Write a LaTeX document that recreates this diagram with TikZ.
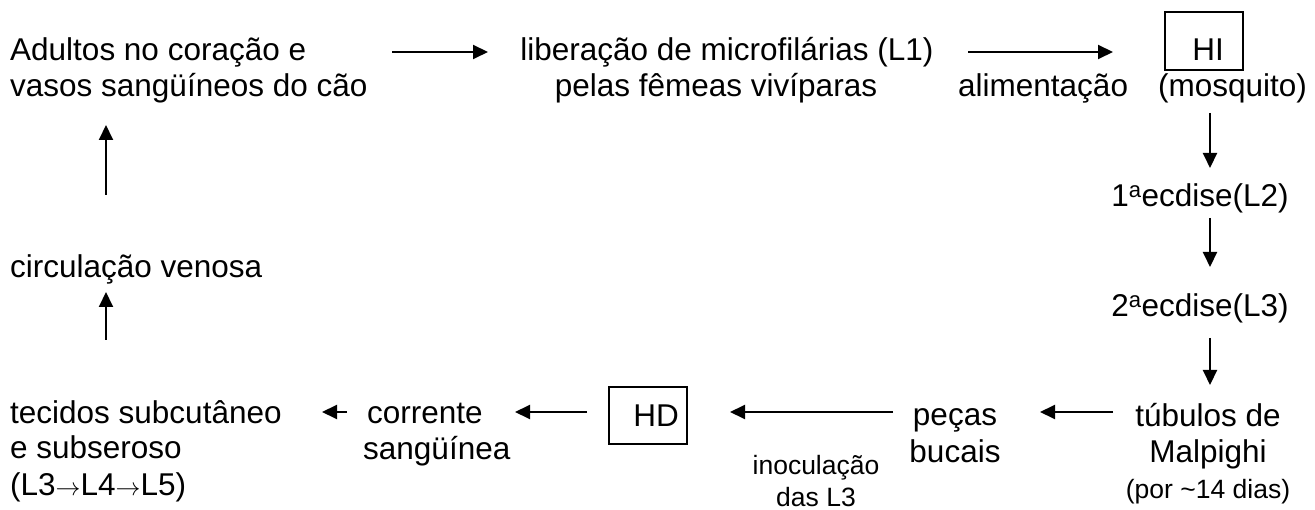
\documentclass[tikz,border=0pt]{standalone}
\usepackage{fontspec}
\setmainfont{Liberation Sans}
\usetikzlibrary{arrows.meta}
\tikzset{
  txt/.style={inner sep=0pt, font=\fontsize{31.5}{36}\selectfont},
  small/.style={inner sep=0pt, font=\fontsize{26.5}{32}\selectfont},
  hostbox/.style={draw, line width=1.2pt, inner sep=0pt},
  arr/.style={line width=2pt, -{Triangle[length=15pt,width=14pt]}},
}
\begin{document}
\begin{tikzpicture}[x=1pt,y=-1pt]
\useasboundingbox (0,0) rectangle (1315,510);
% nodes (base anchor of a multi-line node = baseline of its last line)
\node[txt, anchor=base west, align=left] (adultos) at (10,97) {Adultos no coração e\\vasos sangüíneos do cão};
\node[txt, anchor=base, align=center] (libera) at (727,97) {liberação de microfilárias (L1)\\pelas fêmeas vivíparas\hspace*{22pt}};
\node[txt, anchor=base west] (alim) at (958,97) {alimentação};
\node[hostbox, minimum width=78pt, minimum height=58pt] (hibox) at (1204,41) {};
\node[txt, anchor=base] (hi) at (1208,61) {HI};
\node[txt, anchor=base west] (mosq) at (1158,97) {(mosquito)};
\node[txt, anchor=base] (ec1) at (1200,207) {1\textsuperscript{a}ecdise(L2)};
\node[txt, anchor=base] (ec2) at (1200,317) {2\textsuperscript{a}ecdise(L3)};
\node[txt, anchor=base, align=center] (tub) at (1208,498) {túbulos de\\Malpighi\\{\fontsize{26.5}{36}\selectfont (por \textasciitilde14 dias)}};
\node[txt, anchor=base, align=center] (pecas) at (955,462) {peças\\bucais};
\node[small, anchor=base, align=center] (inoc) at (816,506) {inoculação\\das L3};
\node[hostbox, minimum width=78pt, minimum height=57pt] (hdbox) at (648,415.5) {};
\node[txt, anchor=base] (hd) at (656,427) {HD};
\node[txt, anchor=base west, align=left] (corr) at (363,460) {\hspace*{4pt}corrente\\sangüínea};
\node[txt, anchor=base west, align=left] (tec) at (10,495) {tecidos subcutâneo\\e subseroso\\(L3\ensuremath{\rightarrow}L4\ensuremath{\rightarrow}L5)};
\node[txt, anchor=base west] (circ) at (10,278) {circulação venosa};
% arrow end points
\coordinate (a1s) at (392,52);  \coordinate (a1e) at (488,52);
\coordinate (a2s) at (968,52);  \coordinate (a2e) at (1113,52);
\coordinate (r1s) at (1210,113); \coordinate (r1e) at (1210,168);
\coordinate (r2s) at (1210,218); \coordinate (r2e) at (1210,267);
\coordinate (r3s) at (1210,338); \coordinate (r3e) at (1210,385);
\coordinate (b1s) at (1113,412); \coordinate (b1e) at (1040,412);
\coordinate (b2s) at (893,412);  \coordinate (b2e) at (730,412);
\coordinate (b3s) at (587,412);  \coordinate (b3e) at (515,412);
\coordinate (b4s) at (347,412);  \coordinate (b4e) at (322,412);
\coordinate (l1s) at (106,340);  \coordinate (l1e) at (106,292);
\coordinate (l2s) at (106,195);  \coordinate (l2e) at (106,125);
% arrows
\draw[arr] (a1s) -- (a1e);
\draw[arr] (a2s) -- (a2e);
\draw[arr] (r1s) -- (r1e);
\draw[arr] (r2s) -- (r2e);
\draw[arr] (r3s) -- (r3e);
\draw[arr] (b1s) -- (b1e);
\draw[arr] (b2s) -- (b2e);
\draw[arr] (b3s) -- (b3e);
\draw[arr] (b4s) -- (b4e);
\draw[arr] (l1s) -- (l1e);
\draw[arr] (l2s) -- (l2e);
\end{tikzpicture}
\end{document}
